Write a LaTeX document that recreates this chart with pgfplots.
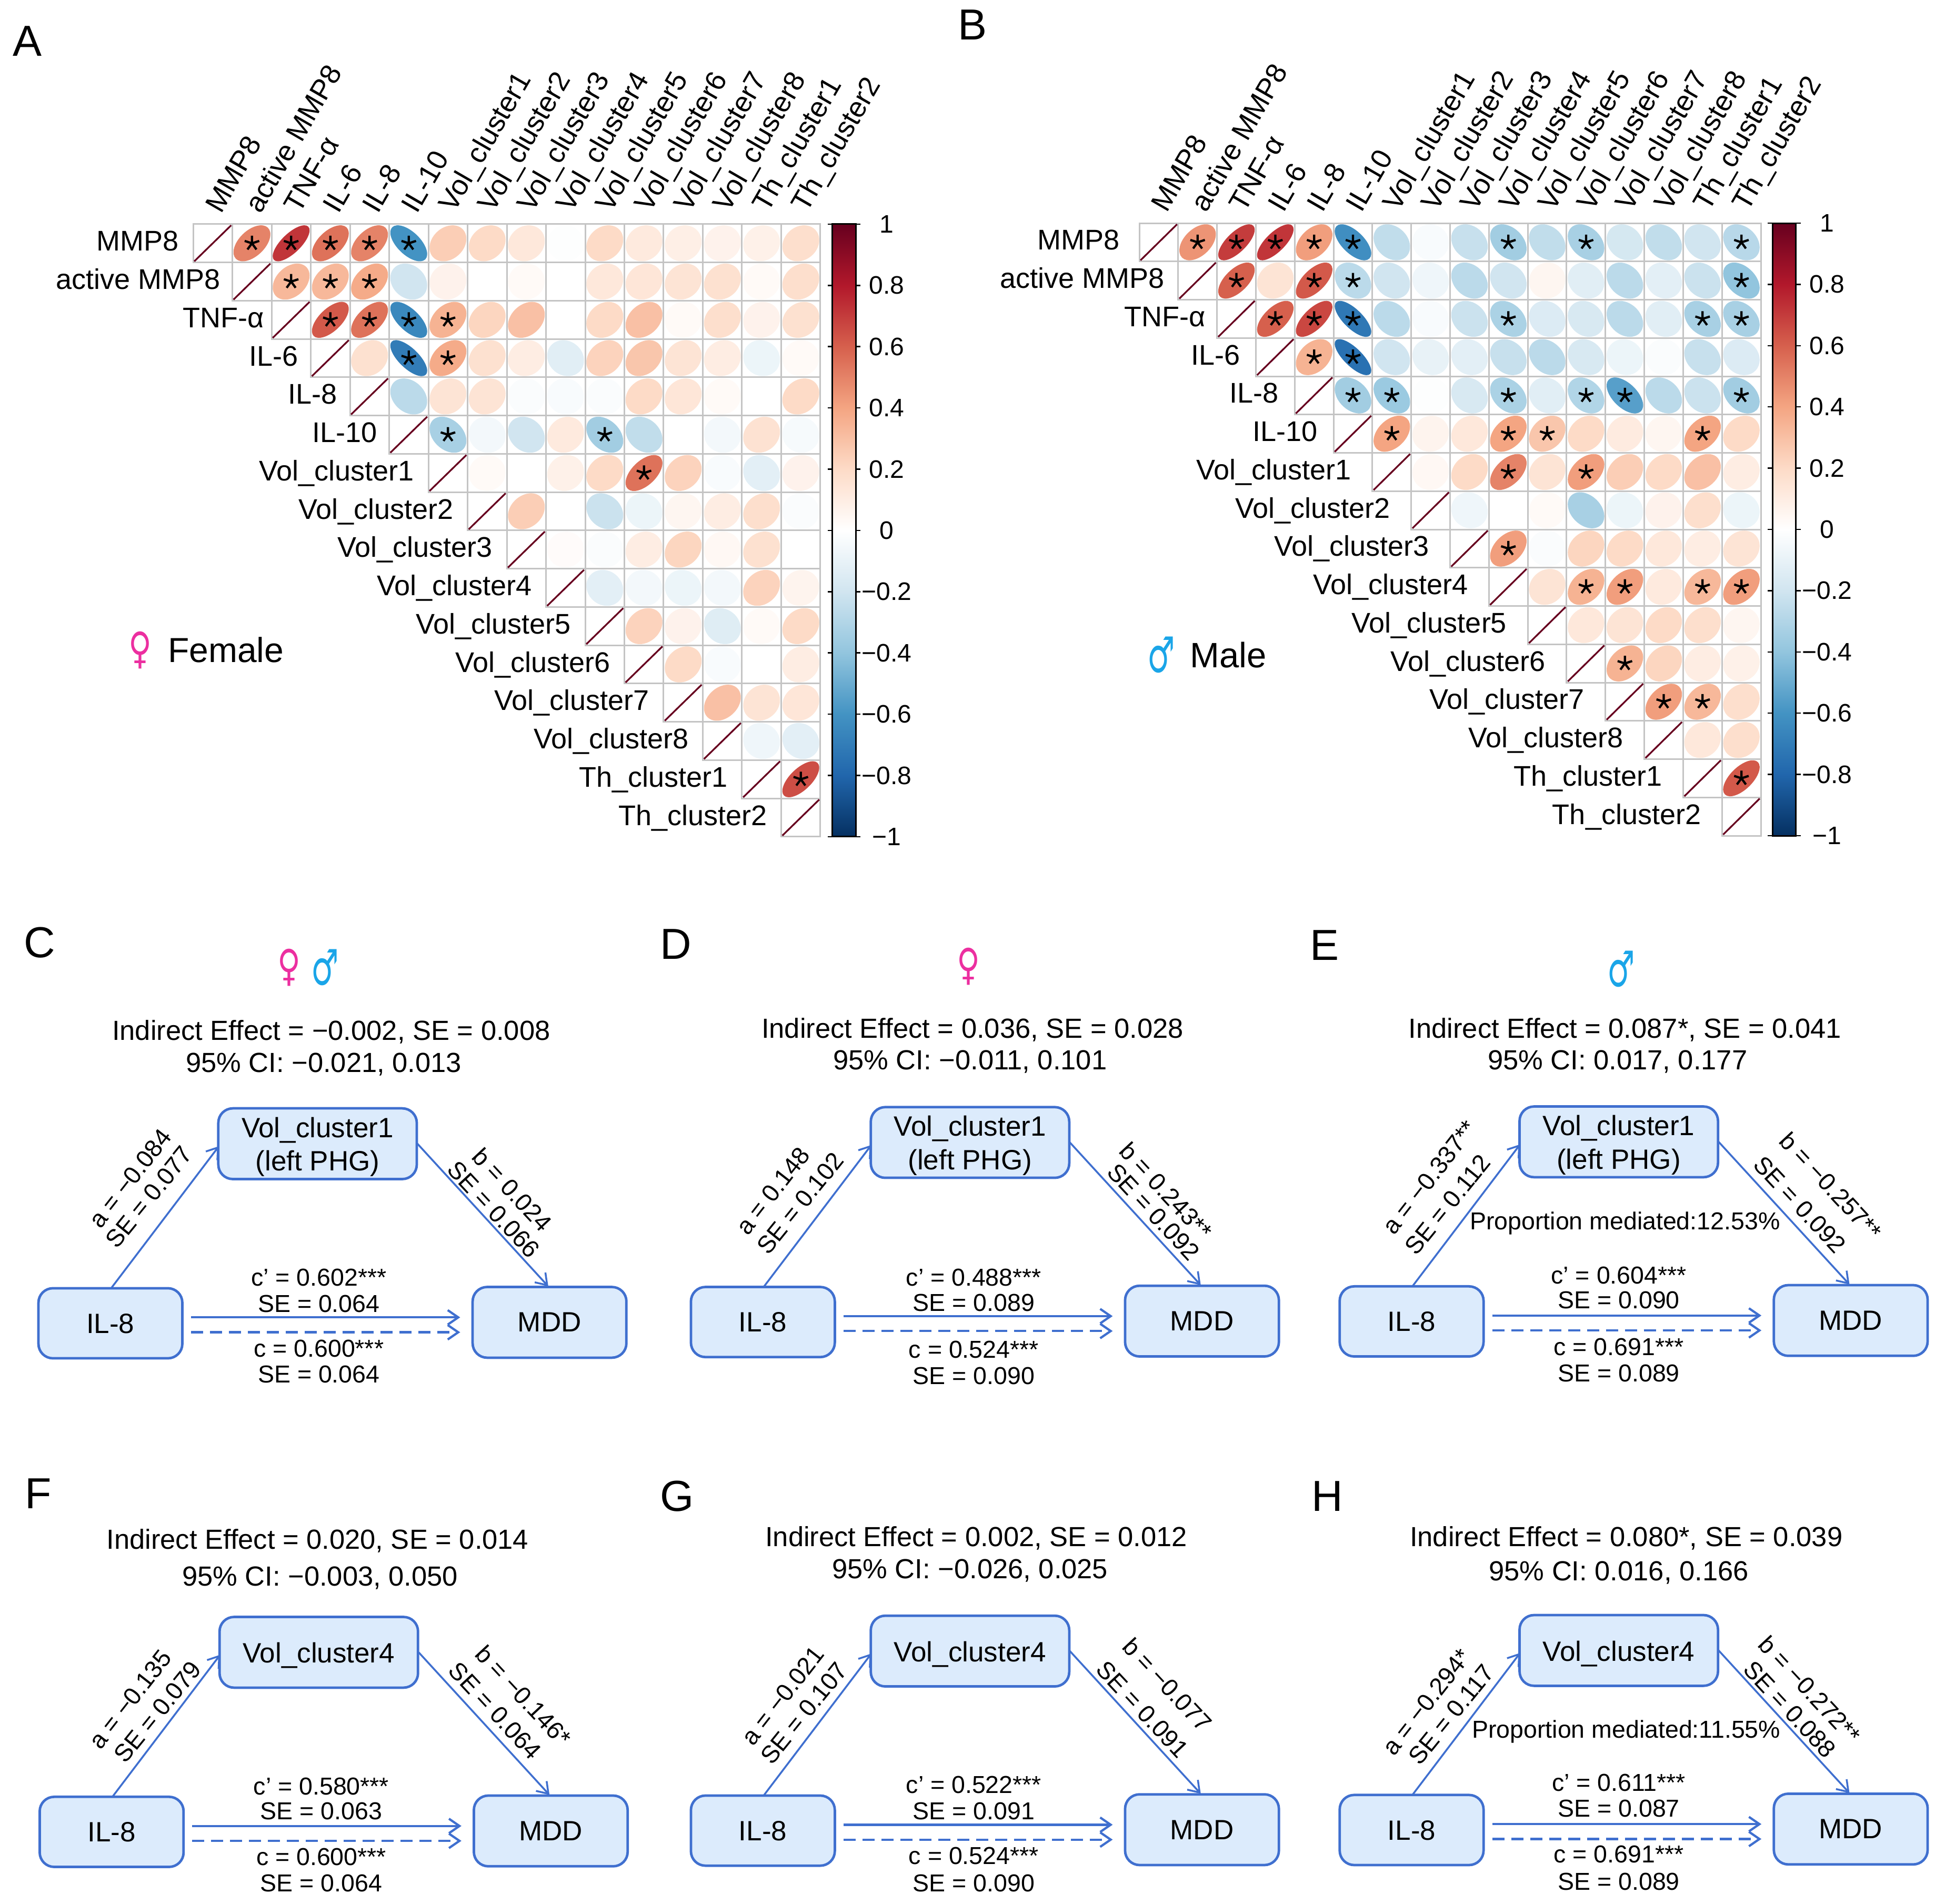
\documentclass[border=0pt]{standalone}
\usepackage{fontspec}
\setmainfont{Liberation Sans}
\newfontfamily\sym{DejaVu Sans}
\usepackage{pgfplots}
\usepackage{pgfplotstable}
\pgfplotsset{compat=1.18}
\usetikzlibrary{arrows.meta}

\definecolor{femalecol}{HTML}{EC2FA0}
\definecolor{malecol}{HTML}{1AA5E8}
\definecolor{boxfill}{HTML}{DCEBFC}
\definecolor{boxline}{HTML}{3F6FCF}
\definecolor{cellgrid}{HTML}{C4C4C4}
\definecolor{diagcol}{HTML}{67001F}

\pgfplotsset{colormap={corrRdBu}{
  rgb255=(5,48,97) rgb255=(33,102,172) rgb255=(67,147,195) rgb255=(146,197,222)
  rgb255=(209,229,240) rgb255=(255,255,255) rgb255=(253,219,199) rgb255=(244,165,130)
  rgb255=(214,96,77) rgb255=(178,24,43) rgb255=(103,0,31)}}

% font sizes
\newcommand\fHead{\fontsize{10.5}{12.6}\selectfont}
\newcommand\fBox{\fontsize{10.6}{12.7}\selectfont}
\newcommand\fSmall{\fontsize{9.3}{11}\selectfont}
\newcommand\fRow{\fontsize{10.8}{12}\selectfont}
\newcommand\fCol{\fontsize{10.8}{12}\selectfont}
\newcommand\fBar{\fontsize{9.6}{12}\selectfont}

% corrplot-style marks, \cellw and \cellh are the cell size in pt
\pgfdeclareplotmark{corrE}{%
  \pgfmathsetmacro\halfd{acos(\rval)/2}%
  \pgfmathsetmacro\ca{0.47*\cellw*cos(\halfd)}%
  \pgfmathsetmacro\cb{0.47*\cellh*cos(\halfd)}%
  \pgfmathsetmacro\sa{0.47*\cellw*sin(\halfd)}%
  \pgfmathsetmacro\sb{0.47*\cellh*sin(\halfd)}%
  \ifdim\halfd pt<1pt
    \pgfsetstrokecolor{diagcol}\pgfsetlinewidth{0.65pt}%
    \pgfpathmoveto{\pgfpoint{-\ca pt}{-\cb pt}}\pgfpathlineto{\pgfpoint{\ca pt}{\cb pt}}%
    \pgfusepathqstroke
  \else
    \pgfpathellipse{\pgfpointorigin}{\pgfpoint{\ca pt}{\cb pt}}{\pgfpoint{-\sa pt}{\sb pt}}%
    \pgfusepathqfill
  \fi}
\pgfdeclareplotmark{corrCell}{%
  \pgfpathrectangle{\pgfpoint{-0.5*\cellw pt}{-0.5*\cellh pt}}{\pgfpoint{\cellw pt}{\cellh pt}}%
  \pgfusepathqstroke}

% x y r significant, one source line for each row of the upper triangle
\pgfplotstableread[row sep=\\]{
cx cy r s\\
0 0 1 0\\ 1 0 .5 1\\ 2 0 .72 1\\ 3 0 .55 1\\ 4 0 .5 1\\ 5 0 -.6 1\\ 6 0 .25 0\\ 7 0 .2 0\\ 8 0 .13 0\\ 9 0 -.01 0\\ 10 0 .2 0\\ 11 0 .12 0\\ 12 0 .09 0\\ 13 0 .07 0\\ 14 0 .08 0\\ 15 0 .18 0\\
1 1 1 0\\ 2 1 .33 1\\ 3 1 .33 1\\ 4 1 .38 1\\ 5 1 -.2 0\\ 6 1 .07 0\\ 7 1 0 0\\ 8 1 .03 0\\ 9 1 0 0\\ 10 1 .13 0\\ 11 1 .14 0\\ 12 1 .15 0\\ 13 1 .17 0\\ 14 1 .03 0\\ 15 1 .18 0\\
2 2 1 0\\ 3 2 .62 1\\ 4 2 .55 1\\ 5 2 -.65 1\\ 6 2 .35 1\\ 7 2 .22 0\\ 8 2 .3 0\\ 9 2 0 0\\ 10 2 .2 0\\ 11 2 .3 0\\ 12 2 .03 0\\ 13 2 .18 0\\ 14 2 .07 0\\ 15 2 .17 0\\
3 3 1 0\\ 4 3 .17 0\\ 5 3 -.7 1\\ 6 3 .38 1\\ 7 3 .17 0\\ 8 3 .1 0\\ 9 3 -.13 0\\ 10 3 .23 0\\ 11 3 .28 0\\ 12 3 .15 0\\ 13 3 .1 0\\ 14 3 -.08 0\\ 15 3 .03 0\\
4 4 1 0\\ 5 4 -.27 0\\ 6 4 .15 0\\ 7 4 .15 0\\ 8 4 -.02 0\\ 9 4 -.03 0\\ 10 4 -.02 0\\ 11 4 .2 0\\ 12 4 .14 0\\ 13 4 .03 0\\ 14 4 0 0\\ 15 4 .2 0\\
5 5 1 0\\ 6 5 -.33 1\\ 7 5 -.05 0\\ 8 5 -.2 0\\ 9 5 .12 0\\ 10 5 -.35 1\\ 11 5 -.25 0\\ 12 5 0 0\\ 13 5 -.05 0\\ 14 5 .16 0\\ 15 5 -.04 0\\
6 6 1 0\\ 7 6 .03 0\\ 8 6 0 0\\ 9 6 .08 0\\ 10 6 .2 0\\ 11 6 .55 1\\ 12 6 .23 0\\ 13 6 -.03 0\\ 14 6 -.12 0\\ 15 6 .07 0\\
7 7 1 0\\ 8 7 .25 0\\ 9 7 0 0\\ 10 7 -.22 0\\ 11 7 -.08 0\\ 12 7 .05 0\\ 13 7 .1 0\\ 14 7 .18 0\\ 15 7 -.02 0\\
8 8 1 0\\ 9 8 .02 0\\ 10 8 -.02 0\\ 11 8 .1 0\\ 12 8 .22 0\\ 13 8 .04 0\\ 14 8 .17 0\\ 15 8 0 0\\
9 9 1 0\\ 10 9 -.12 0\\ 11 9 -.05 0\\ 12 9 -.08 0\\ 13 9 -.05 0\\ 14 9 .23 0\\ 15 9 .06 0\\
10 10 1 0\\ 11 10 .23 0\\ 12 10 .07 0\\ 13 10 -.14 0\\ 14 10 .03 0\\ 15 10 .2 0\\
11 11 1 0\\ 12 11 .2 0\\ 13 11 -.03 0\\ 14 11 0 0\\ 15 11 .1 0\\
12 12 1 0\\ 13 12 .3 0\\ 14 12 .15 0\\ 15 12 .14 0\\
13 13 1 0\\ 14 13 -.07 0\\ 15 13 -.12 0\\
14 14 1 0\\ 15 14 .65 1\\
15 15 1 0\\
}\corrFemale

\pgfplotstableread[row sep=\\]{
cx cy r s\\
0 0 1 0\\ 1 0 .45 1\\ 2 0 .7 1\\ 3 0 .72 1\\ 4 0 .42 1\\ 5 0 -.62 1\\ 6 0 -.25 0\\ 7 0 -.03 0\\ 8 0 -.23 0\\ 9 0 -.35 1\\ 10 0 -.25 0\\ 11 0 -.33 1\\ 12 0 -.18 0\\ 13 0 -.25 0\\ 14 0 -.2 0\\ 15 0 -.28 1\\
1 1 1 0\\ 2 1 .6 1\\ 3 1 .15 0\\ 4 1 .62 1\\ 5 1 -.27 1\\ 6 1 -.2 0\\ 7 1 -.07 0\\ 8 1 -.27 0\\ 9 1 -.2 0\\ 10 1 .05 0\\ 11 1 -.13 0\\ 12 1 -.27 0\\ 13 1 -.12 0\\ 14 1 -.22 0\\ 15 1 -.4 1\\
2 2 1 0\\ 3 2 .6 1\\ 4 2 .67 1\\ 5 2 -.72 1\\ 6 2 -.27 0\\ 7 2 -.03 0\\ 8 2 -.22 0\\ 9 2 -.32 1\\ 10 2 -.15 0\\ 11 2 -.17 0\\ 12 2 -.27 0\\ 13 2 -.13 0\\ 14 2 -.33 1\\ 15 2 -.33 1\\
3 3 1 0\\ 4 3 .35 1\\ 5 3 -.75 1\\ 6 3 -.2 0\\ 7 3 -.1 0\\ 8 3 -.12 0\\ 9 3 -.23 0\\ 10 3 -.27 0\\ 11 3 -.17 0\\ 12 3 -.08 0\\ 13 3 -.02 0\\ 14 3 -.23 0\\ 15 3 -.15 0\\
4 4 1 0\\ 5 4 -.35 1\\ 6 4 -.37 1\\ 7 4 -.01 0\\ 8 4 -.17 0\\ 9 4 -.32 1\\ 10 4 -.13 0\\ 11 4 -.3 1\\ 12 4 -.55 1\\ 13 4 -.27 0\\ 14 4 -.22 0\\ 15 4 -.35 1\\
5 5 1 0\\ 6 5 .4 1\\ 7 5 .06 0\\ 8 5 .13 0\\ 9 5 .4 1\\ 10 5 .28 1\\ 11 5 .2 0\\ 12 5 .11 0\\ 13 5 .05 0\\ 14 5 .4 1\\ 15 5 .2 0\\
6 6 1 0\\ 7 6 .04 0\\ 8 6 .2 0\\ 9 6 .5 1\\ 10 6 .15 0\\ 11 6 .42 1\\ 12 6 .25 0\\ 13 6 .2 0\\ 14 6 .3 0\\ 15 6 .1 0\\
7 7 1 0\\ 8 7 -.07 0\\ 9 7 0 0\\ 10 7 .03 0\\ 11 7 -.33 0\\ 12 7 -.08 0\\ 13 7 .07 0\\ 14 7 .18 0\\ 15 7 -.08 0\\
8 8 1 0\\ 9 8 .42 1\\ 10 8 -.02 0\\ 11 8 .22 0\\ 12 8 .2 0\\ 13 8 .13 0\\ 14 8 .1 0\\ 15 8 .15 0\\
9 9 1 0\\ 10 9 .15 0\\ 11 9 .35 1\\ 12 9 .42 1\\ 13 9 .12 0\\ 14 9 .33 1\\ 15 9 .42 1\\
10 10 1 0\\ 11 10 .13 0\\ 12 10 .15 0\\ 13 10 .2 0\\ 14 10 .18 0\\ 15 10 .05 0\\
11 11 1 0\\ 12 11 .35 1\\ 13 11 .22 0\\ 14 11 .1 0\\ 15 11 .08 0\\
12 12 1 0\\ 13 12 .42 1\\ 14 12 .33 1\\ 15 12 .18 0\\
13 13 1 0\\ 14 13 .13 0\\ 15 13 .18 0\\
14 14 1 0\\ 15 14 .62 1\\
15 15 1 0\\
}\corrMale

% row names stand left of the diagonal, lxa for panel A and lxb for panel B
\pgfplotstableread{
lxa lxb ly lab
-0.85 -0.99 0.2 MMP8
0.2 0.16 1.2 {active MMP8}
1.32 1.22 2.2 TNF-α
2.19 2.11 3.2 IL-6
3.18 3.10 4.2 IL-8
4.21 4.10 5.2 IL-10
5.15 4.97 6.2 Vol\_cluster1
6.15 5.97 7.2 Vol\_cluster2
7.15 6.97 8.2 Vol\_cluster3
8.15 7.97 9.2 Vol\_cluster4
9.15 8.97 10.2 Vol\_cluster5
10.15 9.97 11.2 Vol\_cluster6
11.15 10.97 12.2 Vol\_cluster7
12.15 11.97 13.2 Vol\_cluster8
13.15 12.97 14.2 Th\_cluster1
14.15 13.97 15.2 Th\_cluster2
}\rowNames

\pgfplotsset{corrAxis/.style={
  scale only axis, anchor=north west, clip=false,
  xmin=-0.5, xmax=15.5, ymin=-0.5, ymax=15.5, y dir=reverse,
  axis line style={draw=none}, major tick length=0pt,
  ytick=\empty, xtick={0,...,15},
  xticklabel pos=upper,
  xticklabels={MMP8,active MMP8,TNF-α,IL-6,IL-8,IL-10,Vol\_cluster1,Vol\_cluster2,Vol\_cluster3,Vol\_cluster4,Vol\_cluster5,Vol\_cluster6,Vol\_cluster7,Vol\_cluster8,Th\_cluster1,Th\_cluster2},
  x tick label style={xshift=-0.12pt, yshift=5.4pt, rotate=60, anchor=west, font=\fCol, inner sep=0pt},
  colormap name=corrRdBu, point meta min=-1, point meta max=1,
  colorbar,
  colorbar style={
    anchor=north west, width=8.9pt, scale only axis,
    ytick={-1,-0.8,-0.6,-0.4,-0.2,0,0.2,0.4,0.6,0.8,1},
    yticklabels={−1,−0.8,−0.6,−0.4,−0.2,0,0.2,0.4,0.6,0.8,1},
    tick align=outside, major tick length=1.8pt,
    tick style={black, line width=0.5pt},
    axis line style={black, line width=0.6pt},
    y tick label style={anchor=center, font=\fBar, xshift=10pt},
  },
}}

\newcommand\corrPlots[2]{%
  \addplot[only marks, mark=corrCell, mark options={draw=cellgrid, line width=0.6pt}] table[x=cx, y=cy] {#1};
  \addplot[scatter, only marks, mark=corrE,
    point meta=\thisrow{r}, visualization depends on={\thisrow{r}\as\rval}] table[x=cx, y=cy] {#1};
  \addplot[only marks, mark=star, mark size=2.9pt, mark options={black, line width=0.85pt},
    restrict expr to domain={\thisrow{s}}{0.5:1.5}] table[x=cx, y=cy] {#1};
  \addplot[only marks, mark=none, point meta=explicit symbolic, nodes near coords,
    nodes near coords style={anchor=base east, font=\fRow, inner sep=0pt}]
    table[x=#2, y=ly, meta=lab] {\rowNames};
}

% one mediation diagram, placed by its offset from panel C
\newcommand\medDiagram[3]{%
  \begin{scope}[shift={(#1,#2)}]
    \tikzset{medbox/.style={draw=boxline, fill=boxfill, line width=0.95pt, rounded corners=5.5pt}}
    \path[medbox] (176,893.5) rectangle (336,950.5);
    \path[medbox] (31,1038.5) rectangle (147,1095);
    \path[medbox] (381,1037.5) rectangle (505,1094.5);
    \node[font=\fBox, align=center] at (256,924.5) {#3};
    \node[font=\fBox] at (89,1067) {IL-8};
    \node[font=\fBox] at (443,1066) {MDD};
    \tikzset{medarrow/.style={draw=boxline, line width=0.7pt, -{Straight Barb[length=4pt,width=5.5pt]}}}
    \draw[medarrow] (90,1038) -- (176.5,924);
    \draw[medarrow] (336.5,922) -- (442,1037);
    \draw[medarrow, line width=0.85pt] (154,1062) -- (371,1062);
    \draw[medarrow, line width=0.85pt, dash pattern=on 4.6pt off 2.6pt] (154,1074) -- (371,1074);
  \end{scope}}

\newcommand\headTxt[3]{\node[font=\fHead, inner sep=0pt, yshift=-0.5pt] at (#1,#2) {#3};}
\newcommand\smallTxt[3]{\node[font=\fSmall, inner sep=0pt] at (#1,#2) {#3};}
\newcommand\pathTxt[4]{\node[font=\fSmall, inner sep=0pt, rotate=#3] at (#1,#2) {#4};}
\newcommand\panelTag[3]{\node[font=\fontsize{16.5}{18}\selectfont, inner sep=0pt] at (#1,#2) {#3};}
\newcommand\femaleSign[2]{\node[font=\sym\fontsize{15}{16}\selectfont, text=femalecol, inner sep=0pt, xscale=0.8, yscale=1.1] at (#1,#2) {♀};}
\newcommand\maleSign[2]{\node[font=\sym\fontsize{15}{16}\selectfont, text=malecol, inner sep=0pt, xscale=0.78, yscale=1.25] at (#1,#2) {♂};}

\begin{document}
\begin{tikzpicture}
\begin{scope}[x=0.47143pt, y=-0.47143pt]
  \useasboundingbox (0,0) rectangle (1568,1534.9);
  \coordinate (gridA) at (155.7,180.7);
  \coordinate (gridB) at (918.5,179.9);

  \panelTag{22}{33}{A}
  \panelTag{784}{20}{B}
  \panelTag{32}{760}{C}
  \panelTag{545}{761}{D}
  \panelTag{1068}{762}{E}
  \panelTag{31}{1204}{F}
  \panelTag{546}{1206}{G}
  \panelTag{1070}{1206}{H}

  \femaleSign{113}{524}
  \node[font=\fontsize{13.2}{15}\selectfont, anchor=west, inner sep=0pt] at (135,524) {Female};
  \maleSign{936}{528}
  \node[font=\fontsize{13.4}{15}\selectfont, anchor=west, inner sep=0pt] at (959,528) {Male};

  % C
  \femaleSign{233}{780}\maleSign{262}{780}
  \headTxt{267}{831}{Indirect Effect = −0.002, SE = 0.008}
  \headTxt{261}{857}{95\% CI: −0.021, 0.013}
  \medDiagram{0}{0}{Vol\_cluster1\\(left PHG)}
  \pathTxt{105}{950}{52}{a = −0.084}
  \pathTxt{120}{965}{51}{SE = 0.077}
  \pathTxt{413}{959}{-47}{b = 0.024}
  \pathTxt{398}{975}{-47}{SE = 0.066}
  \smallTxt{257}{1030}{c’ = 0.602***}
  \smallTxt{257}{1051}{SE = 0.064}
  \smallTxt{257}{1087}{c = 0.600***}
  \smallTxt{257}{1108}{SE = 0.064}

  % D
  \femaleSign{781}{779}
  \headTxt{784}{829}{Indirect Effect = 0.036, SE = 0.028}
  \headTxt{782}{855}{95\% CI: −0.011, 0.101}
  \medDiagram{526}{-1}{Vol\_cluster1\\(left PHG)}
  \pathTxt{623}{960}{52}{a = 0.148}
  \pathTxt{645}{970}{51}{SE = 0.102}
  \pathTxt{940}{960}{-47}{b = 0.243**}
  \pathTxt{930}{977}{-47}{SE = 0.092}
  \smallTxt{785}{1030}{c’ = 0.488***}
  \smallTxt{785}{1050}{SE = 0.089}
  \smallTxt{785}{1088}{c = 0.524***}
  \smallTxt{785}{1109}{SE = 0.090}

  % E
  \maleSign{1307}{781}
  \headTxt{1310}{829}{Indirect Effect = 0.087*, SE = 0.041}
  \headTxt{1304}{855}{95\% CI: 0.017, 0.177}
  \medDiagram{1049}{-1.5}{Vol\_cluster1\\(left PHG)}
  \pathTxt{1152.6}{949}{52}{a = −0.337**}
  \pathTxt{1167}{971}{51}{SE = 0.112}
  \pathTxt{1476}{956}{-47}{b = −0.257**}
  \pathTxt{1451}{971}{-47}{SE = 0.092}
  \smallTxt{1310}{986}{Proportion mediated:12.53\%}
  \smallTxt{1305}{1028}{c’ = 0.604***}
  \smallTxt{1305}{1048}{SE = 0.090}
  \smallTxt{1305}{1086}{c = 0.691***}
  \smallTxt{1305}{1107}{SE = 0.089}

  % F
  \headTxt{256}{1241}{Indirect Effect = 0.020, SE = 0.014}
  \headTxt{258}{1271}{95\% CI: −0.003, 0.050}
  \medDiagram{1}{410}{Vol\_cluster4}
  \pathTxt{105}{1370}{52}{a = −0.135}
  \pathTxt{127}{1380}{51}{SE = 0.079}
  \pathTxt{422}{1367}{-47}{b = −0.146*}
  \pathTxt{399}{1379}{-47}{SE = 0.064}
  \smallTxt{259}{1440}{c’ = 0.580***}
  \smallTxt{259}{1460}{SE = 0.063}
  \smallTxt{259}{1497}{c = 0.600***}
  \smallTxt{259}{1518}{SE = 0.064}

  % G
  \headTxt{787}{1239}{Indirect Effect = 0.002, SE = 0.012}
  \headTxt{782}{1265}{95\% CI: −0.026, 0.025}
  \medDiagram{526}{409}{Vol\_cluster4}
  \pathTxt{631}{1367}{52}{a = −0.021}
  \pathTxt{648}{1381}{51}{SE = 0.107}
  \pathTxt{941}{1358}{-47}{b = −0.077}
  \pathTxt{921}{1378}{-47}{SE = 0.091}
  \smallTxt{785}{1439}{c’ = 0.522***}
  \smallTxt{785}{1460}{SE = 0.091}
  \smallTxt{785}{1496}{c = 0.524***}
  \smallTxt{785}{1518}{SE = 0.090}

  % H
  \headTxt{1311}{1239}{Indirect Effect = 0.080*, SE = 0.039}
  \headTxt{1305}{1267}{95\% CI: 0.016, 0.166}
  \medDiagram{1049}{408.5}{Vol\_cluster4}
  \pathTxt{1150}{1372}{52}{a = −0.294*}
  \pathTxt{1170}{1382}{51}{SE = 0.117}
  \pathTxt{1459}{1362}{-47}{b = −0.272**}
  \pathTxt{1443}{1378}{-47}{SE = 0.088}
  \smallTxt{1311}{1396}{Proportion mediated:11.55\%}
  \smallTxt{1305}{1437}{c’ = 0.611***}
  \smallTxt{1305}{1458}{SE = 0.087}
  \smallTxt{1305}{1495}{c = 0.691***}
  \smallTxt{1305}{1517}{SE = 0.089}
\end{scope}

% panel A
\def\cellw{14.9}\def\cellh{14.55}
\begin{axis}[corrAxis, at={(gridA)}, width=238.4pt, height=232.8pt,
  colorbar style={at={(1.019,1)}, height=232.8pt}]
\corrPlots{\corrFemale}{lxa}
\end{axis}

% panel B
\def\cellw{14.76}\def\cellh{14.55}
\begin{axis}[corrAxis, at={(gridB)}, width=236.2pt, height=232.8pt,
  colorbar style={at={(1.019,1)}, height=232.8pt}]
\corrPlots{\corrMale}{lxb}
\end{axis}
\end{tikzpicture}
\end{document}
